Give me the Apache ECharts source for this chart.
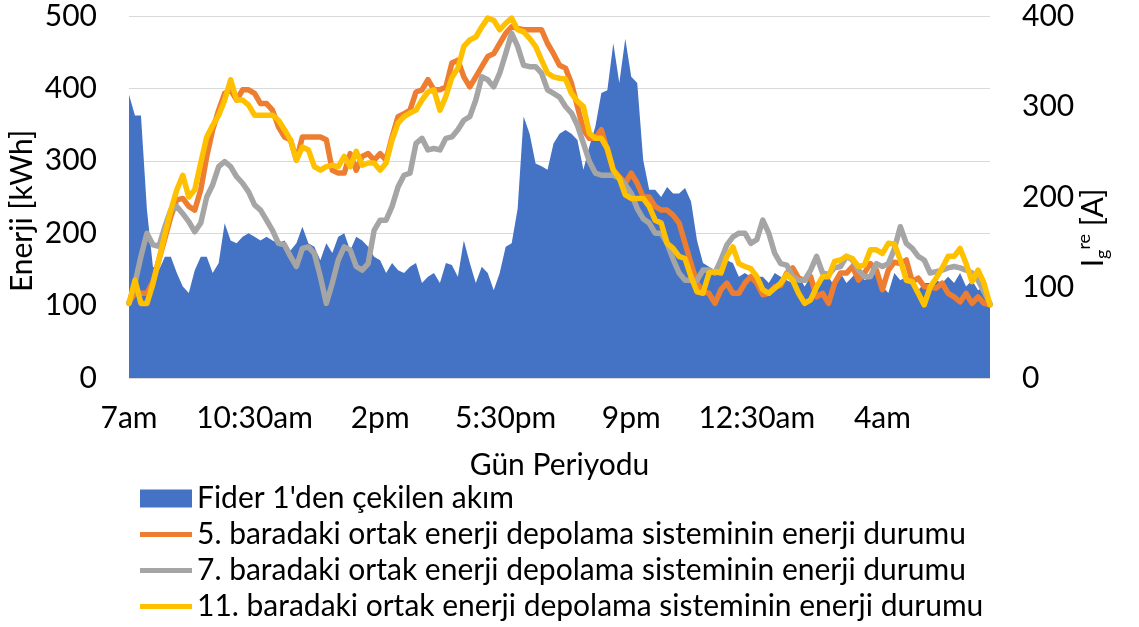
<!DOCTYPE html>
<html>
<head>
<meta charset="utf-8">
<script src="https://cdn.jsdelivr.net/npm/echarts@6/dist/echarts.min.js"></script>
<style>
html,body{margin:0;padding:0;background:#fff;}
#chart{width:1139px;height:627px;}
</style>
</head>
<body>
<div id="chart"></div>
<script>
// 10-minute samples from 7:00 to 7:00 next day (145 points)
const tickLabels = ['7am','10:30am','2pm','5:30pm','9pm','12:30am','4am'];
const seriesNames = [
  "Fider 1'den çekilen akım",
  '5. baradaki ortak enerji depolama sisteminin enerji durumu',
  '7. baradaki ortak enerji depolama sisteminin enerji durumu',
  '11. baradaki ortak enerji depolama sisteminin enerji durumu'
];
// Fider 1 current [A] (right axis)
const feederCurrent = [
313,290,290,186,123,119,134,134,116,101,
94,119,134,134,116,127,171,152,149,156,
160,156,152,156,152,149,152,141,149,167,
149,145,130,149,138,156,160,141,156,152,
145,134,130,116,127,119,116,123,127,105,
112,116,105,127,125,112,152,127,105,123,
116,97,116,145,149,187,289,270,237,234,
230,259,270,274,270,263,230,256,278,315,
318,370,326,375,333,326,241,208,208,200,
211,204,204,210,195,152,127,123,119,116,
130,127,112,116,112,112,112,105,116,112,
108,105,112,101,112,94,116,112,101,116,
105,112,119,108,112,116,101,94,116,108,
112,105,97,105,105,108,105,112,105,116,
101,108,97,101,79
];
// Energy state [kWh] (left axis)
const bus5Energy = [
105,117,117,117,133,163,193,223,246,248,
237,232,260,306,343,370,393,398,384,398,
398,393,379,379,370,347,333,329,301,333,
333,333,333,329,287,283,283,310,287,306,
310,301,310,301,333,361,365,370,395,398,
412,398,398,402,435,439,416,402,416,430,
444,448,462,476,485,483,481,481,481,481,
462,448,432,428,407,375,343,331,331,343,
315,287,278,269,283,269,250,250,237,232,
232,225,214,186,158,131,119,117,103,122,
131,117,117,131,140,131,115,117,126,128,
145,152,138,135,140,112,117,103,131,145,
145,154,135,145,158,149,122,149,160,158,
163,133,138,126,126,124,131,117,112,105,
117,103,112,103,101
];
const bus7Energy = [
103,131,168,200,184,182,209,232,237,227,
216,202,214,250,267,292,299,292,278,269,
257,239,232,218,204,186,184,168,154,179,
181,172,140,103,131,163,181,177,154,149,
158,204,218,218,237,264,280,283,324,331,
315,317,315,331,333,343,356,361,384,416,
412,402,421,448,476,458,432,430,430,421,
398,393,388,375,366,349,324,299,283,280,
280,280,276,267,255,234,220,214,200,200,
186,164,145,135,135,135,149,149,145,163,
184,195,200,200,186,191,218,200,172,158,
156,140,135,135,149,168,145,143,152,154,
168,163,149,140,140,158,154,158,178,209,
186,179,168,163,145,147,149,152,154,152,
149,145,135,119,103
];
const bus11Energy = [
103,135,103,103,130,164,198,232,260,280,
250,260,297,333,349,363,384,412,384,384,
377,363,363,363,363,356,343,329,301,319,
315,292,287,292,294,292,306,292,313,294,
297,297,287,297,329,352,361,366,370,384,
395,398,370,389,415,428,458,467,471,485,
497,494,481,490,497,481,478,469,458,439,
421,416,414,413,393,382,375,338,331,331,
317,287,276,253,248,248,248,237,218,214,
186,179,168,165,140,119,117,145,147,145,
168,181,158,154,151,140,122,117,124,131,
143,135,117,103,108,126,140,140,161,163,
168,165,154,156,177,177,172,186,185,163,
135,133,117,101,126,138,152,168,168,179,
158,133,149,131,101
];
const labelStep = 21; // 3.5 h in 10-minute steps
const categories = feederCurrent.map((_, i) => i);

const FONT = 'Lato';
const FS = 30;
const LINE_ICON = 'path://M0,0L52,0L52,5L0,5Z';
const chart = echarts.init(document.getElementById('chart'), null, {renderer: 'canvas'});
const lineSeries = (name, data, color) => ({
  name, type: 'line', data, yAxisIndex: 0, symbol: 'none', smooth: false,
  lineStyle: {color, width: 5.5, join: 'round', cap: 'round'},
  itemStyle: {color}, z: 3
});
chart.setOption({
  backgroundColor: '#ffffff',
  animation: false,
  textStyle: {fontFamily: FONT},
  grid: {left: 129, right: 149, top: 16, bottom: 249, containLabel: false},
  legend: {
    orient: 'vertical', left: 140, top: 483, padding: 0,
    itemWidth: 52, itemHeight: 18, itemGap: 5,
    textStyle: {fontFamily: FONT, fontSize: FS, color: '#000', lineHeight: 31},
    data: [
      {name: seriesNames[0], icon: 'rect'},
      {name: seriesNames[1], icon: LINE_ICON},
      {name: seriesNames[2], icon: LINE_ICON},
      {name: seriesNames[3], icon: LINE_ICON}
    ]
  },
  xAxis: {
    type: 'category', data: categories, boundaryGap: false,
    name: 'Gün Periyodu', nameLocation: 'middle', nameGap: 72,
    nameTextStyle: {fontFamily: FONT, fontSize: FS, color: '#000'},
    axisLine: {show: true, lineStyle: {color: '#D9D9D9', width: 1}},
    axisTick: {show: false},
    axisLabel: {
      interval: (i) => i % labelStep === 0,
      formatter: (v, i) => tickLabels[Math.round(i / labelStep)] || '',
      fontFamily: FONT, fontSize: FS, color: '#000', margin: 25
    },
    splitLine: {show: false}
  },
  yAxis: [
    {
      type: 'value', min: 0, max: 500, interval: 100, position: 'left',
      axisLine: {show: false}, axisTick: {show: false},
      axisLabel: {fontFamily: FONT, fontSize: FS, color: '#000', margin: 32},
      splitLine: {show: true, lineStyle: {color: '#D9D9D9', width: 1}}
    },
    {
      type: 'value', min: 0, max: 400, interval: 100, position: 'right',
      axisLine: {show: false}, axisTick: {show: false},
      axisLabel: {fontFamily: FONT, fontSize: FS, color: '#000', margin: 32},
      splitLine: {show: false}
    }
  ],
  graphic: [
    {
      type: 'text', x: 22, y: 211, rotation: Math.PI / 2,
      style: {text: 'Enerji [kWh]', font: FS + 'px ' + FONT, fill: '#000', textAlign: 'center', textVerticalAlign: 'middle'}
    },
    {
      type: 'text', x: 1093, y: 228, rotation: Math.PI / 2,
      style: {
        text: '{a|I}{b|g}{c|re}{a| [A]}',
        textAlign: 'center', textVerticalAlign: 'middle',
        rich: {
          a: {fontFamily: FONT, fontSize: FS, fill: '#000', lineHeight: 36, verticalAlign: 'middle'},
          b: {fontFamily: FONT, fontSize: 18, fill: '#000', lineHeight: 36, verticalAlign: 'bottom', padding: [14, 0, 0, 0]},
          c: {fontFamily: FONT, fontSize: 18, fill: '#000', lineHeight: 36, verticalAlign: 'top', padding: [0, 0, 14, 0]}
        }
      }
    }
  ],
  series: [
    {
      name: seriesNames[0], type: 'line', data: feederCurrent, yAxisIndex: 1,
      symbol: 'none', lineStyle: {width: 0, color: '#4472C4'},
      itemStyle: {color: '#4472C4'},
      areaStyle: {color: '#4472C4', opacity: 1}, z: 1
    },
    lineSeries(seriesNames[1], bus5Energy, '#ED7D31'),
    lineSeries(seriesNames[2], bus7Energy, '#A5A5A5'),
    lineSeries(seriesNames[3], bus11Energy, '#FFC000')
  ]
});
</script>
</body>
</html>
